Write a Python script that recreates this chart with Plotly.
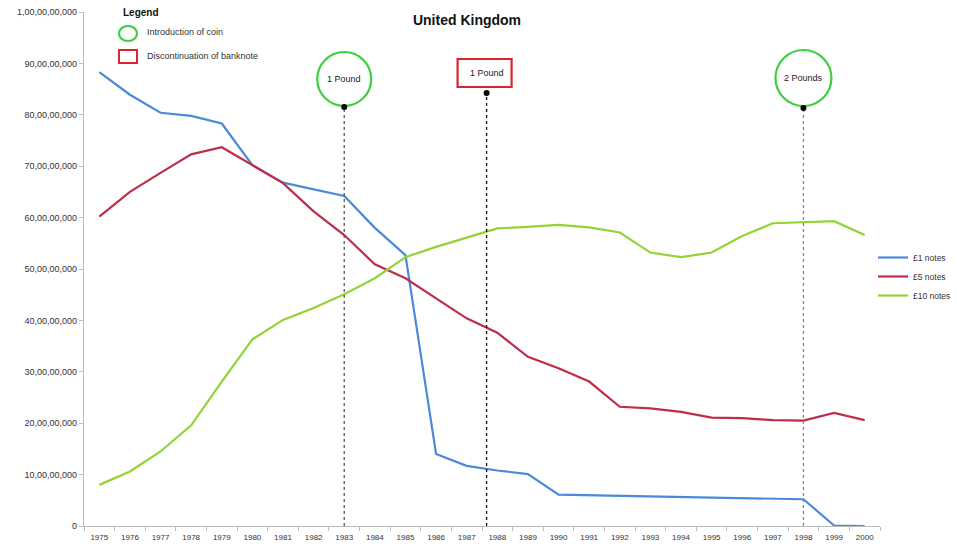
import plotly.graph_objects as go

# Banknotes in circulation, United Kingdom
years = list(range(1975, 2001))

one_pound_notes = [
    883e6, 839e6, 804e6, 798e6, 783e6, 702e6, 668e6, 655e6, 642e6, 580e6,
    527e6, 140e6, 117e6, 108e6, 101e6, 61e6, 60e6, 59e6, 58e6, 57e6,
    56e6, 55e6, 54e6, 52e6, 1e6, 0,
]
five_pound_notes = [
    602e6, 650e6, 687e6, 723e6, 737e6, 702e6, 667e6, 612e6, 566e6, 509e6,
    482e6, 443e6, 404e6, 376e6, 329e6, 307e6, 281e6, 232e6, 229e6, 222e6,
    211e6, 210e6, 206e6, 205e6, 220e6, 206e6,
]
ten_pound_notes = [
    80e6, 106e6, 145e6, 196e6, 281e6, 363e6, 401e6, 424e6, 451e6, 482e6,
    523e6, 543e6, 561e6, 579e6, 582e6, 586e6, 581e6, 571e6, 532e6, 523e6,
    532e6, 564e6, 589e6, 591e6, 593e6, 566e6,
]

series_names = ["£1 notes", "£5 notes", "£10 notes"]
series_colors = ["#4a8ad8", "#be2d4a", "#92d336"]

y_tick_values = [i * 100e6 for i in range(11)]
y_tick_labels = [
    "0", "10,00,00,000", "20,00,00,000", "30,00,00,000", "40,00,00,000",
    "50,00,00,000", "60,00,00,000", "70,00,00,000", "80,00,00,000",
    "90,00,00,000", "1,00,00,00,000",
]

# Events: label, year, kind ("coin" = introduction of coin, "note" = discontinuation of banknote)
event_labels = ["1 Pound", "1 Pound", "2 Pounds"]
event_years = [1983, 1987.65, 1998]
event_kinds = ["coin", "note", "coin"]

FONT = "Liberation Sans"
L, R, T, B = 84, 77, 12, 20
W, H = 957, 546
PLOT_W = W - L - R
PLOT_H = H - T - B


def py(p):
    """paper y of a pixel row"""
    return (H - B - p) / PLOT_H


def px(p):
    """paper x of a pixel column"""
    return (p - L) / PLOT_W


fig = go.Figure()
for name, vals, col in zip(series_names,
                           [one_pound_notes, five_pound_notes, ten_pound_notes],
                           series_colors):
    fig.add_trace(go.Scatter(
        x=years, y=vals, name=name, mode="lines",
        line=dict(color=col, width=2.2),
    ))

GREEN = "#3fcf3f"
RED = "#d8262c"

for lab, yr, kind in zip(event_labels, event_years, event_kinds):
    if kind == "coin":
        top = 107 if yr < 1990 else 108
        cy = 79 if yr < 1990 else 78
        r = 27 if yr < 1990 else 28
        fig.add_shape(
            type="circle", xref="x", yref="paper", xsizemode="pixel",
            ysizemode="pixel", xanchor=yr, yanchor=py(cy),
            x0=-r, x1=r, y0=-r, y1=r, layer="below",
            line=dict(color=GREEN, width=2.2),
        )
        lc = "#555555" if yr < 1990 else "#888888"
    else:
        top = 93
        cy = 73
        fig.add_shape(
            type="rect", xref="x", yref="paper", xsizemode="pixel",
            ysizemode="pixel", xanchor=yr, yanchor=py(cy),
            x0=-29, x1=25, y0=-14, y1=14, layer="below",
            line=dict(color=RED, width=2.2),
        )
        lc = "#111111"
    fig.add_annotation(
        x=yr, y=py(cy), xref="x", yref="paper", text=lab,
        showarrow=False, xanchor="center", yanchor="middle",
        font=dict(family=FONT, size=9, color="#222"),
    )
    fig.add_shape(
        type="line", xref="x", yref="paper", x0=yr, x1=yr, y0=0, y1=py(top),
        line=dict(color=lc, width=1.3, dash="dot"),
    )
    fig.add_shape(
        type="circle", xref="x", yref="paper", xsizemode="pixel",
        ysizemode="pixel", xanchor=yr, yanchor=py(top),
        x0=-3, x1=3, y0=-3, y1=3,
        line=dict(color="black", width=0), fillcolor="black",
    )

# Key for the event symbols (top left)
fig.add_annotation(x=px(121), y=py(12), xref="paper", yref="paper",
                   text="<b>Legend</b>", showarrow=False, xanchor="left",
                   yanchor="middle", font=dict(family=FONT, size=10, color="#111"))
fig.add_shape(type="circle", xref="paper", yref="paper",
              x0=px(119), x1=px(137), y0=py(41), y1=py(26),
              line=dict(color=GREEN, width=2.2))
fig.add_annotation(x=px(145), y=py(32), xref="paper", yref="paper",
                   text="Introduction of coin", showarrow=False, xanchor="left",
                   yanchor="middle", font=dict(family=FONT, size=9, color="#333"))
fig.add_shape(type="rect", xref="paper", yref="paper",
              x0=px(119), x1=px(137), y0=py(63), y1=py(50),
              line=dict(color=RED, width=2))
fig.add_annotation(x=px(145), y=py(56), xref="paper", yref="paper",
                   text="Discontinuation of banknote", showarrow=False,
                   xanchor="left", yanchor="middle",
                   font=dict(family=FONT, size=9, color="#333"))

fig.update_layout(
    width=W, height=H,
    margin=dict(l=L, r=R, t=T, b=B, autoexpand=False),
    paper_bgcolor="white", plot_bgcolor="white",
    title=dict(text="<b>United Kingdom</b>", x=467 / W, xanchor="center",
               y=1 - 20 / H, yanchor="middle",
               font=dict(family=FONT, size=14, color="#111")),
    font=dict(family=FONT, size=9, color="#333"),
    showlegend=True,
    legend=dict(x=px(873), xanchor="left", y=py(243), yanchor="top",
                font=dict(family=FONT, size=8.5, color="#333"),
                itemwidth=30, tracegroupgap=0, bgcolor="rgba(0,0,0,0)"),
    xaxis=dict(
        range=[1974.5, 2000.5], tickvals=years, ticktext=[str(y) for y in years],
        showgrid=False, zeroline=False, showline=True, linecolor="#b8bcbc",
        linewidth=1.2, ticks="", ticklabelstandoff=3,
        tickfont=dict(family=FONT, size=8, color="#333"),
        minor=dict(tick0=1974.5, dtick=1, ticks="outside", ticklen=4,
                   tickcolor="#b8bcbc", showgrid=False),
    ),
    yaxis=dict(
        range=[0, 1000e6], tickvals=y_tick_values, ticktext=y_tick_labels,
        showgrid=False, zeroline=False, showline=True, linecolor="#b8bcbc",
        linewidth=1.2, ticks="outside", ticklen=4, tickcolor="#b8bcbc",
        tickfont=dict(family=FONT, size=9, color="#333"),
    ),
)

fig.write_html("out.html")
